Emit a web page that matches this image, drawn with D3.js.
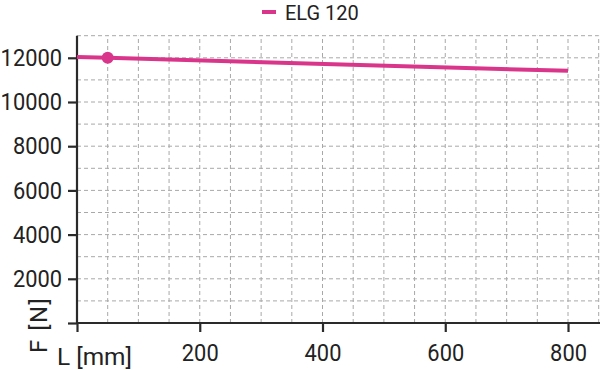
<!DOCTYPE html>
<html><head><meta charset="utf-8">
<script src="https://cdn.jsdelivr.net/npm/d3@7"></script>
<style>
body{margin:0;background:#fff;}
text{font-family:"Roboto","Noto Sans",sans-serif;fill:#222;}
</style></head>
<body><svg id="c" width="600" height="370"></svg>
<script>
const seriesName = "ELG 120";
const lengths = [0, 50, 800];
const forces = [12040, 12000, 11410];
const markerL = [50];
const markerF = [12000];
const xTicks = [200, 400, 600, 800];
const yTicks = [2000, 4000, 6000, 8000, 10000, 12000];
const xLabel = "L [mm]";
const yLabel = "F [N]";

const svg = d3.select("#c");
const x = d3.scaleLinear().domain([0, 850]).range([77, 598.7]);
const y = d3.scaleLinear().domain([0, 13000]).range([323, 35.7]);
const color = "#d9368b";

// grid
const g = svg.append("g");
g.selectAll("line.v").data(d3.range(50, 851, 50)).join("line")
  .attr("x1", d => x(d)).attr("x2", d => x(d)).attr("y1", y(0)).attr("y2", y(13000))
  .attr("stroke", "#a8a8a8").attr("stroke-width", 1).attr("stroke-dasharray", "4,3");
g.selectAll("line.h").data(d3.range(1000, 13001, 1000)).join("line")
  .attr("y1", d => y(d)).attr("y2", d => y(d)).attr("x1", x(0)).attr("x2", x(850))
  .attr("stroke", "#a8a8a8").attr("stroke-width", 1).attr("stroke-dasharray", "4,3");

// axes
const xa = svg.append("g").attr("transform", `translate(0,${y(0)})`)
  .call(d3.axisBottom(x).tickValues([0, ...xTicks]).tickSize(9).tickPadding(12).tickFormat(d => d === 0 ? "" : d));
const ya = svg.append("g").attr("transform", `translate(${x(0)},0)`)
  .call(d3.axisLeft(y).tickValues([0, ...yTicks]).tickSize(9).tickPadding(6).tickFormat(d => d === 0 ? "" : d));
[xa, ya].forEach(a => {
  a.select(".domain").attr("stroke", "#2a2a2a").attr("stroke-width", 2.2);
  a.selectAll(".tick line").attr("stroke", "#2a2a2a").attr("stroke-width", 2.2);
  a.selectAll("text").attr("font-size", 24).attr("fill", "#222")
   .style("font-family", '"Roboto","Noto Sans",sans-serif')
   .each(function(){ const w = this.getComputedTextLength(); if (w > 0) { d3.select(this).attr("textLength", w * 0.91).attr("lengthAdjust", "spacingAndGlyphs"); } });
});
xa.select(".domain").attr("d", `M${x(0)},0H600`);
ya.select(".domain").attr("d", `M0,${y(0)}V${y(13000)}`);

// line
svg.append("path").datum(lengths.map((l, i) => [l, forces[i]]))
  .attr("d", d3.line().x(d => x(d[0])).y(d => y(d[1])))
  .attr("fill", "none").attr("stroke", color).attr("stroke-width", 4);
svg.selectAll("circle.m").data(markerL).join("circle")
  .attr("cx", d => x(d)).attr("cy", (d, i) => y(markerF[i])).attr("r", 6).attr("fill", color);

// labels
svg.append("text").attr("x", 57).attr("y", 365).attr("font-size", 24)
  .attr("textLength", 75).attr("lengthAdjust", "spacingAndGlyphs").text(xLabel);
svg.append("text").attr("transform", "translate(47,353) rotate(-90)").attr("font-size", 24)
  .attr("textLength", 55).attr("lengthAdjust", "spacing").text(yLabel);

// legend
svg.append("line").attr("x1", 262).attr("x2", 276).attr("y1", 12).attr("y2", 12)
  .attr("stroke", color).attr("stroke-width", 4);
svg.append("text").attr("x", 285).attr("y", 19.5).attr("font-size", 20).text(seriesName);
</script></body></html>
